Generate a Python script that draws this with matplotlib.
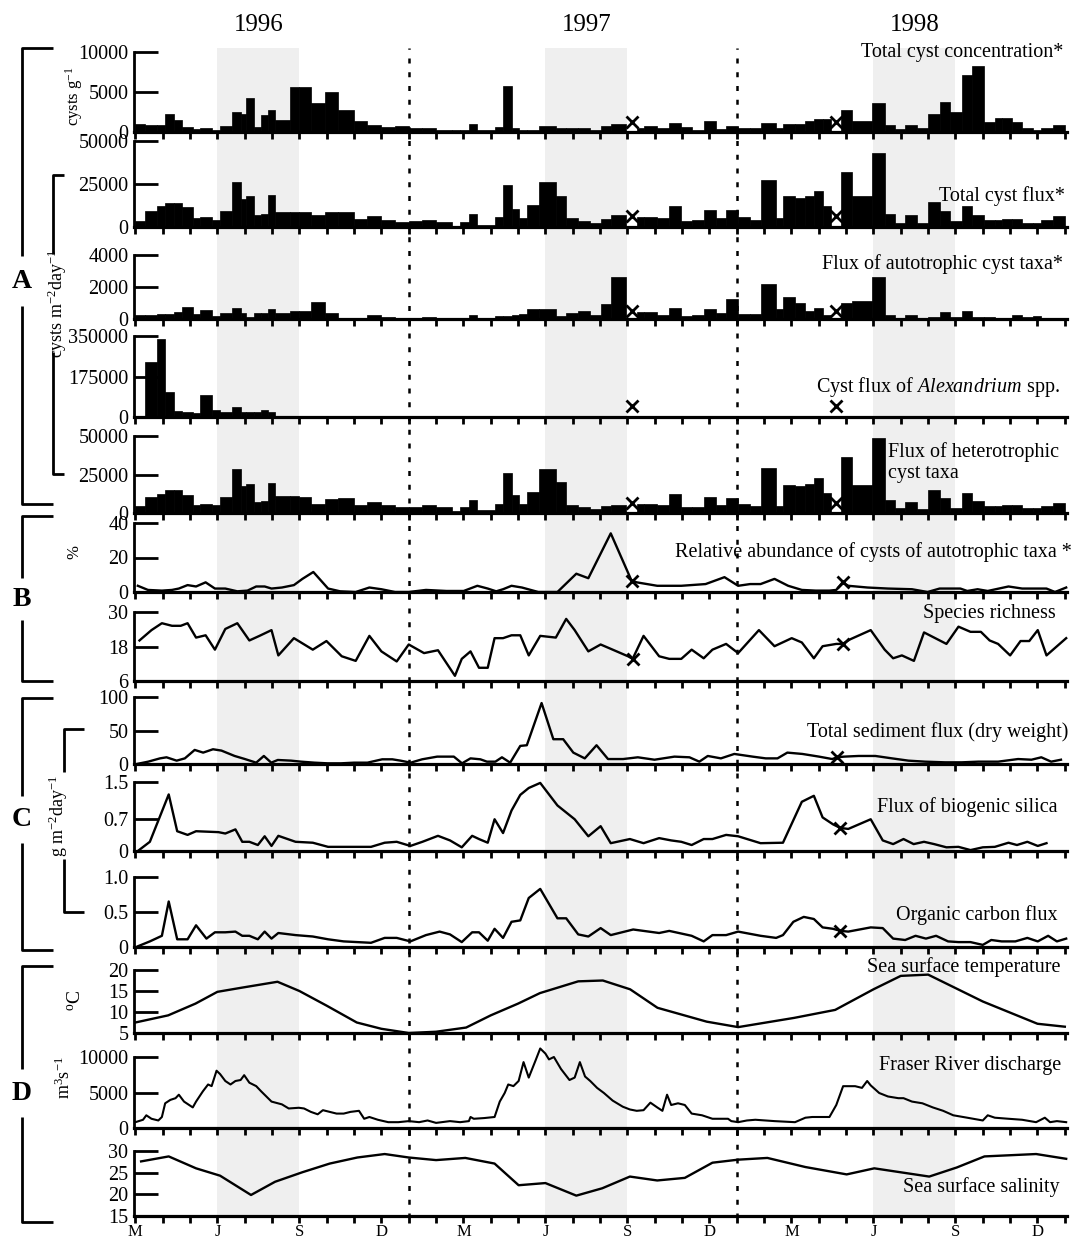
import numpy as np
import matplotlib
matplotlib.use("Agg")
import matplotlib.pyplot as plt
from matplotlib.transforms import blended_transform_factory

plt.rcParams["font.family"] = ["Liberation Serif", "DejaVu Serif"]
plt.rcParams["mathtext.fontset"] = "custom"
plt.rcParams["mathtext.rm"] = "Liberation Serif"
plt.rcParams["mathtext.it"] = "Liberation Serif:italic"
plt.rcParams["mathtext.bf"] = "Liberation Serif:bold"

nan = np.nan

# time in months since 1 Jan 1996 (2 = 1 Mar 1996, 36 = 1 Jan 1999)
trap_edges = [2.0, 2.34, 2.78, 3.09, 3.41, 3.72, 4.10, 4.35, 4.79, 5.10, 5.54, 5.85, 6.04, 6.35,
              6.60, 6.86, 7.11, 7.67, 7.98, 8.42, 8.93, 9.43, 9.99, 10.49, 11.00, 11.50, 12.00,
              12.50, 13.00, 13.57, 13.88, 14.20, 14.51, 15.14, 15.45, 15.76, 16.02, 16.33, 16.77,
              17.38, 17.76, 18.20, 18.64, 19.02, 19.39, 19.96, 20.34, 20.59, 21.09, 21.53, 21.97,
              22.35, 22.79, 23.23, 23.61, 24.05, 24.49, 24.87, 25.44, 25.69, 26.13, 26.51, 26.82,
              27.14, 27.45, 27.83, 28.21, 28.96, 29.41, 29.78, 30.16, 30.60, 30.98, 31.42, 31.80,
              32.24, 32.62, 33.06, 33.44, 33.69, 34.07, 34.44, 34.82, 35.14, 35.58, 36.0]

cyst_conc = [1000, 900, 900, 2200, 1500, 650, 350, 550, 300, 800,
             2500, 2300, 4200, 650, 2100, 2700, 1550, 5600, 5600, 3600,
             5000, 2700, 1400, 850, 650, 800, 450, 450, 300, 300,
             300, 1000, 300, 600, 5800, 500, 200, 200, 700, 550,
             550, 450, 200, 700, 1000, nan, 450, 800, 550, 1100,
             650, 300, 1350, 350, 800, 450, 450, 1150, 450, 1050,
             1050, 1400, 1650, 1650, nan, 2800, 1400, 3600, 900, 350,
             900, 450, 2300, 3800, 2500, 7100, 8300, 1200, 1800, 1800,
             1200, 550, 300, 550, 900]

cyst_flux = [3600, 9500, 12000, 13800, 13800, 11400, 5500, 6000, 4300, 9500,
             26000, 16000, 18000, 6700, 7600, 18500, 9000, 9000, 9000, 6700,
             9000, 9000, 4800, 6500, 4300, 3000, 3600, 4300, 2900, 700,
             2900, 7800, 1200, 6000, 24300, 10200, 5500, 13000, 26000, 18000,
             5500, 3600, 2400, 4800, 7100, nan, 6000, 6000, 5200, 12000,
             3600, 4000, 10000, 5200, 10000, 6000, 4000, 27200, 5500, 18000,
             17000, 18000, 21000, 12400, nan, 32000, 18000, 43000, 7600, 2400,
             6700, 2400, 14300, 9500, 3600, 12400, 7100, 4300, 4300, 4800,
             4800, 2400, 2400, 4300, 6400]

auto_flux = [240, 280, 300, 330, 430, 740, 330, 560, 185, 370,
             700, 370, 150, 400, 400, 650, 400, 520, 520, 1050,
             370, 90, 55, 280, 130, 40, 55, 130, 75, 20,
             55, 240, 75, 200, 185, 280, 315, 650, 600, 185,
             370, 520, 220, 960, 2600, nan, 430, 430, 240, 680,
             185, 280, 600, 400, 1240, 330, 330, 2180, 600, 1390,
             1020, 520, 680, 220, nan, 1020, 1110, 2650, 280, 75,
             240, 55, 130, 430, 130, 500, 150, 130, 90, 90,
             220, 130, 185, 90, 90]

alex_flux = [2000, 238000, 338000, 106000, 26000, 20000, 17000, 95000, 32000, 23000,
             42000, 23000, 23000, 20000, 29000, 20000, 6000, 5000, 3000, 3000,
             2000, 2000, 1000, 1000, 1000, 1000, 1000, 1000, 1000, 1000,
             1000, 1000, 1000, 1000, 1000, 1000, 1000, 1000, 500, 500,
             500, 500, 500, 500, 500, nan, 500, 500, 500, 500,
             500, 500, 500, 500, 500, 500, 500, 500, 500, 500,
             500, 3000, 3000, 500, nan, 500, 500, 3000, 500, 500,
             500, 500, 500, 500, 500, 500, 500, 500, 500, 500,
             500, 500, 500, 500, 500]

hetero_flux = [4300, 10200, 12400, 15200, 15200, 12000, 5400, 6100, 5000, 10400,
               28300, 17400, 19100, 7000, 8000, 19600, 10900, 10900, 10200, 6100,
               9300, 9800, 5400, 7000, 5000, 3700, 3900, 5000, 3700, 1100,
               3700, 8700, 1700, 6100, 26100, 11500, 6100, 13700, 28300, 20000,
               5400, 3700, 2800, 4300, 5400, nan, 5900, 5900, 5400, 12400,
               3700, 4100, 10400, 5000, 9800, 5900, 4300, 29000, 4300, 18500,
               17400, 19100, 22800, 13000, nan, 36500, 18500, 49000, 8300, 3300,
               7200, 2800, 14800, 9800, 3300, 13000, 7600, 4300, 4300, 5000,
               5000, 3300, 3300, 4300, 6500]

missing_samples = [20.15, 27.64]

abund_t = [2.09, 2.46, 2.97, 3.34, 3.59, 3.91, 4.22, 4.57, 4.91, 5.29, 5.73, 6.10, 6.42, 6.73,
           6.98, 7.36, 7.80, 8.11, 8.51, 9.05, 9.49, 10.06, 10.56, 11.0, 11.50, 12.0, 12.63,
           13.38, 14.01, 14.51, 14.89, 15.20, 15.45, 15.76, 16.14, 16.74, 17.44, 18.13, 18.57,
           19.39, 20.15, 20.34, 21.09, 21.97, 22.86, 23.55, 24.05, 24.49, 24.87, 25.38, 25.88,
           26.38, 26.89, 27.39, 27.64, 27.87, 28.08, 28.78, 29.53, 30.41, 30.98, 31.42, 32.18,
           32.43, 32.81, 33.18, 33.94, 34.44, 35.33, 35.64, 36.05]
abund_v = [3.6, 1.2, 0.8, 1.2, 2.0, 4.0, 3.2, 5.6, 2.0, 2.0, 0.4, 0.8, 3.2, 3.2,
           2.0, 2.6, 4.0, 7.6, 11.6, 2.0, 0.4, 0, 2.6, 1.6, 0, 0, 1.2,
           0.6, 0.6, 3.6, 2.0, 0.4, 1.6, 3.6, 2.6, 0, 0, 10.6, 8.0,
           34, 6.6, 5.6, 3.6, 3.6, 4.6, 8.6, 3.6, 4.6, 4.6, 7.6, 3.6,
           1.2, 0.8, 0.8, 1.2, 5.6, 3.6, 2.6, 2.0, 1.6, 0, 2.0, 2.0,
           0.6, 1.6, 0.6, 3.2, 2.0, 2.0, 0, 2.6]
abund_x = [20.15, 27.87]
abund_xv = [6.6, 5.6]

rich_t = [2.15, 2.59, 2.97, 3.34, 3.66, 3.91, 4.22, 4.57, 4.91, 5.29, 5.73, 6.17, 6.54, 6.98,
          7.23, 7.80, 8.49, 8.99, 9.55, 10.06, 10.56, 11.0, 11.56, 12.0, 12.56, 13.07, 13.69,
          13.94, 14.26, 14.57, 14.89, 15.14, 15.45, 15.76, 16.08, 16.39, 16.81, 17.38, 17.76,
          18.07, 18.57, 19.02, 19.46, 20.02, 20.19, 20.59, 21.16, 21.53, 21.97, 22.35, 22.79,
          23.11, 23.61, 24.05, 24.81, 25.38, 26.01, 26.38, 26.82, 27.14, 27.64, 27.87, 28.15,
          28.90, 29.41, 29.72, 30.04, 30.48, 30.85, 31.67, 32.11, 32.55, 32.93, 33.25, 33.56,
          34.0, 34.38, 34.70, 35.01, 35.33, 36.05]
rich_v = [20.1, 23.7, 26.1, 25.2, 25.2, 26.1, 21.1, 21.9, 16.9, 24.1, 26.1, 20.1, 21.7, 23.7,
          14.9, 20.9, 16.9, 19.9, 14.6, 13.0, 21.7, 16.3, 12.8, 18.7, 15.7, 16.7, 7.8,
          13.7, 16.3, 10.6, 10.6, 20.9, 20.9, 21.9, 21.9, 14.9, 21.7, 21.1, 27.6,
          23.7, 16.3, 18.7, 16.9, 14.6, 13.7, 21.7, 14.6, 13.7, 13.7, 16.9, 13.9,
          16.9, 18.9, 15.7, 23.7, 18.1, 20.9, 19.4, 13.9, 18.1, 18.9, 18.9, 20.5,
          23.7, 16.9, 13.9, 14.9, 13.0, 22.9, 18.9, 24.9, 23.1, 23.1, 20.1, 18.9,
          14.9, 19.9, 19.9, 23.7, 14.9, 20.9]
rich_x = [20.19, 27.87]
rich_xv = [13.7, 18.9]

sed_t = [2.05, 2.47, 2.90, 3.14, 3.51, 3.81, 4.17, 4.48, 4.84, 5.15, 5.63, 6.0, 6.42, 6.70,
         6.97, 7.21, 7.70, 8.06, 8.55, 9.03, 9.52, 10.0, 10.49, 11.03, 11.40, 11.70, 12.07,
         12.49, 13.04, 13.65, 13.95, 14.26, 14.62, 14.86, 15.17, 15.41, 15.71, 16.08, 16.32,
         16.86, 17.29, 17.65, 18.02, 18.44, 18.87, 19.29, 19.84, 20.38, 20.99, 21.72, 22.27,
         22.63, 22.94, 23.42, 23.91, 24.58, 25.06, 25.49, 25.85, 26.40, 27.01, 27.49, 27.67,
         27.92, 28.46, 29.07, 29.68, 30.28, 30.89, 31.62, 32.23, 32.84, 33.56, 34.29, 34.78,
         35.14, 35.50, 35.86]
sed_v = [0, 3.5, 8.4, 10, 5, 8.4, 21, 17, 22, 20, 12, 7.5, 2, 12,
         2, 6, 5, 3.5, 2, 1, 1, 2, 2, 7, 7, 5, 2,
         7, 11, 11, 1, 8.4, 7, 3.5, 3.5, 10, 2, 27, 28,
         91, 37, 37, 17, 8.4, 28, 7.4, 7.4, 10, 6.4, 11, 10,
         3.5, 12, 8.4, 15, 11, 8.4, 8.4, 17, 15, 11, 7.4, 10,
         11, 12, 12, 8.4, 5, 3.5, 2.5, 2.5, 3.5, 3.5, 7.4, 6.4,
         10, 3.5, 6.4]
sed_x = [27.67]
sed_xv = [10]

sil_t = [2.09, 2.53, 3.22, 3.53, 3.91, 4.22, 5.04, 5.29, 5.66, 5.91, 6.17, 6.48, 6.73, 6.98,
         7.23, 7.86, 8.49, 9.05, 9.62, 10.62, 11.12, 11.56, 12.06, 12.50, 13.07, 13.51, 13.94,
         14.32, 14.57, 14.89, 15.14, 15.45, 15.76, 16.08, 16.39, 16.81, 17.44, 18.07, 18.57,
         19.02, 19.39, 20.09, 20.59, 21.16, 21.60, 21.97, 22.35, 22.79, 23.11, 23.61, 24.05,
         24.87, 25.69, 26.38, 26.82, 27.14, 27.52, 27.79, 28.08, 28.90, 29.34, 29.72, 30.10,
         30.47, 30.85, 31.22, 31.67, 32.11, 32.55, 33.0, 33.44, 33.94, 34.25, 34.63, 35.01,
         35.33]
sil_v = [0, 0.20, 1.23, 0.43, 0.35, 0.43, 0.41, 0.38, 0.47, 0.20, 0.20, 0.13, 0.32, 0.11,
         0.33, 0.20, 0.18, 0.09, 0.09, 0.09, 0.18, 0.20, 0.11, 0.20, 0.33, 0.23, 0.08,
         0.33, 0.26, 0.18, 0.69, 0.39, 0.88, 1.22, 1.37, 1.48, 0.99, 0.69, 0.32,
         0.54, 0.17, 0.26, 0.17, 0.28, 0.23, 0.20, 0.13, 0.26, 0.26, 0.35, 0.32,
         0.17, 0.18, 1.07, 1.20, 0.73, 0.58, 0.50, 0.48, 0.69, 0.23, 0.15, 0.26,
         0.15, 0.20, 0.15, 0.08, 0.09, 0.02, 0.08, 0.09, 0.18, 0.13, 0.20, 0.11,
         0.17]
sil_x = [27.79]
sil_xv = [0.50]

oc_t = [2.09, 2.53, 2.97, 3.22, 3.53, 3.91, 4.22, 4.60, 4.91, 5.29, 5.66, 5.91, 6.17, 6.48,
        6.73, 6.98, 7.23, 7.86, 8.49, 9.05, 9.62, 10.62, 11.12, 11.56, 12.06, 12.63, 13.13,
        13.51, 13.94, 14.32, 14.57, 14.89, 15.14, 15.45, 15.76, 16.08, 16.39, 16.81, 17.44,
        17.76, 18.20, 18.57, 19.02, 19.39, 20.21, 21.16, 21.53, 22.35, 22.79, 23.11, 23.61,
        24.05, 24.87, 25.44, 25.69, 26.07, 26.45, 26.82, 27.14, 27.52, 27.79, 28.08, 28.90,
        29.34, 29.72, 30.16, 30.54, 30.92, 31.29, 31.73, 32.11, 32.55, 33.0, 33.31, 33.69,
        34.19, 34.63, 35.01, 35.39, 35.71, 36.05]
oc_v = [0.01, 0.08, 0.16, 0.65, 0.11, 0.11, 0.31, 0.12, 0.21, 0.21, 0.22, 0.16, 0.16, 0.11,
        0.22, 0.12, 0.20, 0.17, 0.15, 0.11, 0.08, 0.06, 0.13, 0.13, 0.08, 0.17, 0.22,
        0.18, 0.07, 0.21, 0.21, 0.09, 0.26, 0.13, 0.36, 0.38, 0.70, 0.83, 0.41,
        0.41, 0.18, 0.15, 0.27, 0.17, 0.25, 0.20, 0.23, 0.16, 0.08, 0.17, 0.17,
        0.22, 0.16, 0.13, 0.17, 0.36, 0.43, 0.40, 0.28, 0.26, 0.23, 0.22, 0.28,
        0.27, 0.12, 0.10, 0.16, 0.12, 0.16, 0.08, 0.07, 0.07, 0.03, 0.10, 0.08,
        0.08, 0.13, 0.08, 0.16, 0.08, 0.12]
oc_x = [27.79]
oc_xv = [0.23]

sst_t = [2.0, 3.2, 4.2, 5.0, 5.9, 7.2, 8.0, 9.0, 10.1, 11.0, 12.0, 13.0, 14.1, 15.0, 16.0,
         16.8, 18.2, 19.1, 20.1, 21.1, 22.9, 24.05, 26.1, 27.6, 29.0, 30.0, 31.0, 33.0, 35.0, 36.0]
sst_v = [7.5, 9.2, 12.0, 14.8, 15.8, 17.2, 15.0, 11.5, 7.5, 6.0, 5.0, 5.3, 6.3, 9.2, 12.0,
         14.5, 17.3, 17.5, 15.4, 11.0, 7.7, 6.4, 8.6, 10.5, 15.4, 18.6, 18.9, 12.5, 7.2, 6.5]

fraser_t = [2.0, 2.28, 2.4, 2.59, 2.84, 2.97, 3.09, 3.28, 3.47, 3.59, 3.78, 4.10, 4.22, 4.47,
            4.66, 4.79, 4.97, 5.10, 5.29, 5.48, 5.66, 5.85, 5.98, 6.17, 6.42, 6.60, 6.98, 7.36,
            7.61, 7.98, 8.17, 8.42, 8.67, 8.86, 9.11, 9.36, 9.62, 9.87, 10.18, 10.37, 10.56,
            10.87, 11.25, 11.62, 12.0, 12.38, 12.69, 13.0, 13.51, 13.88, 14.2, 14.26, 14.38,
            14.76, 15.14, 15.33, 15.51, 15.64, 15.83, 16.02, 16.2, 16.39, 16.64,
            16.81, 17.0, 17.13, 17.31, 17.57, 17.88, 18.07, 18.26, 18.45, 18.64, 18.89, 19.14,
            19.46, 19.83, 20.09, 20.34, 20.59, 20.84, 21.09, 21.28, 21.45, 21.6, 21.85, 22.1,
            22.35, 22.73, 23.11, 23.36, 23.68, 23.80, 24.05, 24.37, 24.68, 25.38, 26.13, 26.51,
            26.76, 27.39, 27.64, 27.89, 28.33, 28.58, 28.77, 28.90, 29.21, 29.53, 29.91, 30.10,
            30.41, 30.79, 31.17, 31.55, 31.92, 32.43, 33.0, 33.18, 33.44, 33.94, 34.44, 34.95,
            35.27, 35.46, 35.71, 36.05]
fraser_v = [820, 1160, 1790, 1300, 1060, 1550, 3480, 3960, 4200, 4690, 3720, 2900, 3720, 5170,
            6130, 5900, 8070, 7590, 6620, 6130, 6620, 6760, 7440, 6380, 5900, 5170, 3720, 3330,
            2750, 2850, 2750, 2270, 1930, 2510, 2270, 2030, 2030, 2270, 2420, 1300, 1550,
            1160, 820, 820, 970, 820, 1060, 720, 970, 820, 970, 1550, 1300,
            1400, 1550, 3720, 4930, 6130, 5900, 6620, 9280, 7100, 9520,
            11200, 10480, 9660, 10000, 8310, 6760, 7100, 9280, 7250, 6620, 5650, 4930,
            3860, 3000, 2610, 2420, 2510, 3570, 2900, 2420, 4690, 3240, 3480, 3240,
            2030, 1790, 1300, 1300, 1300, 970, 820, 1060, 1160, 970, 820, 1450,
            1550, 1550, 3240, 5890, 5890, 5650, 6620, 6000, 4930, 4440, 4200, 4200,
            3720, 3480, 2900, 2420, 1790, 1450, 1060, 1790, 1450, 1300, 1160, 820,
            1450, 820, 970, 820]

sal_t = [2.21, 3.22, 4.22, 5.10, 6.23, 7.11, 8.11, 9.11, 10.12, 11.12, 12.0, 13.0, 14.07,
         15.14, 16.02, 17.0, 18.13, 19.08, 20.09, 21.09, 22.10, 23.11, 24.05, 25.12, 26.51,
         28.02, 29.03, 31.04, 32.05, 33.06, 34.95, 36.05]
sal_v = [27.6, 28.75, 26.0, 24.3, 19.85, 22.9, 25.1, 27.1, 28.5, 29.3, 28.5, 27.9, 28.4,
         27.1, 22.1, 22.6, 19.7, 21.4, 24.1, 23.2, 23.8, 27.3, 28.0, 28.4, 26.3,
         24.6, 26.0, 24.1, 26.2, 28.75, 29.3, 28.2]

summers = [(5, 8), (17, 20), (29, 32)]
year_labels = ["1996", "1997", "1998"]
new_years = [12, 24]
month_ticks = [2, 5, 8, 11, 14, 17, 20, 23, 26, 29, 32, 35]
month_labels = ["M", "J", "S", "D"] * 3

# ---------------------------------------------------------------- layout
W, H = 1079, 1245
fig = plt.figure(figsize=(W / 100, H / 100), dpi=100)
XL, XR = 134, 1067
XLIM = (1.95, 36.08)


def panel(top, bottom, ylim, yticks, yticklabels=None):
    ax = fig.add_axes([XL / W, 1 - bottom / H, (XR - XL) / W, (bottom - top) / H])
    ax.set_xlim(*XLIM)
    ax.set_ylim(*ylim)
    ax.patch.set_visible(False)
    ax.spines[["top", "right"]].set_visible(False)
    ax.spines["left"].set_linewidth(2)
    ax.spines["bottom"].set_linewidth(2.3)
    ax.set_xticks(np.arange(2, 37))
    ax.tick_params(axis="x", direction="out", length=5, width=2, labelbottom=False)
    ax.set_yticks(yticks)
    ax.set_yticklabels(yticklabels if yticklabels else [str(t) for t in yticks])
    ax.tick_params(axis="y", direction="in", length=17, width=2, pad=4, labelsize=14.5)
    return ax


def label(ax, x, y, txt, ha="right"):
    ax.text(x, y, txt, transform=ax.transAxes, ha=ha, va="center", fontsize=14.5)


# background: summer shading, new-year dotted lines, years
bg = fig.add_axes([XL / W, 1 - 1218 / H, (XR - XL) / W, (1218 - 48) / H])
bg.set_xlim(*XLIM)
bg.set_ylim(0, 1)
bg.axis("off")
for a, b in summers:
    bg.axvspan(a, b, color="#efefef", lw=0)
for x in new_years:
    bg.axvline(x, color="k", lw=1.8, ls=(0, (2, 3.5)))
tr = blended_transform_factory(bg.transData, fig.transFigure)
for (a, b), lab in zip(summers, year_labels):
    bg.text((a + b) / 2, 1 - 25 / H, lab, transform=tr, ha="center", va="center", fontsize=18)

edges = np.array(trap_edges)
left = edges[:-1]
width = np.diff(edges)


def bars(ax, vals):
    v = np.array(vals, float)
    ok = ~np.isnan(v)
    ax.bar(left[ok], v[ok], width=width[ok], align="edge", color="k", edgecolor="k", lw=0.5)
    t = blended_transform_factory(ax.transData, ax.transAxes)
    ax.plot(missing_samples, [0.13] * len(missing_samples), transform=t, ls="none",
            marker="x", ms=9, mew=2, color="k")


def line(ax, t, v, xt=None, xv=None):
    ax.plot(t, v, color="k", lw=1.7, clip_on=False)
    if xt:
        ax.plot(xt, xv, ls="none", marker="x", ms=9, mew=2, color="k")


# A: cysts
ax = panel(52, 132, (0, 10000), [0, 5000, 10000])
bars(ax, cyst_conc)
label(ax, 0.996, 0.99, "Total cyst concentration*")

ax = panel(141, 227, (0, 50000), [0, 25000, 50000])
bars(ax, cyst_flux)
label(ax, 0.998, 0.36, "Total cyst flux*")

ax = panel(255, 319, (0, 4000), [0, 2000, 4000])
bars(ax, auto_flux)
label(ax, 0.996, 0.86, "Flux of autotrophic cyst taxa*")

ax = panel(336, 417, (0, 350000), [0, 175000, 350000])
bars(ax, alex_flux)
label(ax, 0.9925, 0.37, r"Cyst flux of $\mathit{Alexandrium}$ spp.")

ax = panel(436, 513, (0, 50000), [0, 25000, 50000])
bars(ax, hetero_flux)
ax.text(0.808, 0.66, "Flux of heterotrophic\ncyst taxa", transform=ax.transAxes,
        ha="left", va="center", fontsize=14.5, linespacing=1.15)

# B
ax = panel(523, 592, (0, 40), [0, 20, 40])
line(ax, abund_t, abund_v, abund_x, abund_xv)
label(ax, 1.005, 0.585, "Relative abundance of cysts of autotrophic taxa *")

ax = panel(612, 681, (6, 30), [6, 18, 30])
line(ax, rich_t, rich_v, rich_x, rich_xv)
label(ax, 0.988, 0.977, "Species richness")

# C
ax = panel(697, 764, (0, 100), [0, 50, 100])
line(ax, sed_t, sed_v, sed_x, sed_xv)
label(ax, 1.001, 0.48, "Total sediment flux (dry weight)")

ax = panel(782, 851, (0, 1.5), [0, 0.7, 1.5], ["0", "0.7", "1.5"])
line(ax, sil_t, sil_v, sil_x, sil_xv)
label(ax, 0.99, 0.64, "Flux of biogenic silica")

ax = panel(877, 947, (0, 1.0), [0, 0.5, 1.0], ["0", "0.5", "1.0"])
line(ax, oc_t, oc_v, oc_x, oc_xv)
label(ax, 0.99, 0.46, "Organic carbon flux")

# D
ax = panel(970, 1033, (5, 20), [5, 10, 15, 20])
line(ax, sst_t, sst_v)
label(ax, 0.9925, 1.05, "Sea surface temperature")

ax = panel(1057, 1128, (0, 10000), [0, 5000, 10000])
ax.plot(fraser_t, fraser_v, color="k", lw=1.5, clip_on=False)
label(ax, 0.994, 0.88, "Fraser River discharge")

ax = panel(1151, 1216, (15, 30), [15, 20, 25, 30])
line(ax, sal_t, sal_v)
label(ax, 0.9925, 0.45, "Sea surface salinity")
ax.set_xticks(month_ticks)
ax.set_xticklabels(month_labels)
ax.set_xticks(np.arange(2, 37), minor=True)
ax.tick_params(axis="x", which="both", direction="out", length=5, width=2,
               labelbottom=True, labelsize=12, pad=1)

# brackets, group letters and unit labels (pixel overlay)
ov = fig.add_axes([0, 0, 1, 1])
ov.set_xlim(0, W)
ov.set_ylim(H, 0)
ov.axis("off")
kw = dict(color="k", lw=2, solid_capstyle="butt")
groups = [("A", 48, 256, 306, 504), ("B", 516, 578, 620, 681),
          ("C", 698, 796, 843, 950), ("D", 966, 1069, 1117, 1222)]
for letter, y0, g0, g1, y1 in groups:
    ov.plot([53, 22, 22], [y0, y0, g0], **kw)
    ov.plot([22, 22, 53], [g1, y1, y1], **kw)
    ov.text(22, (g0 + g1) / 2, letter, ha="center", va="center", fontsize=20, weight="bold")

ov.plot([64, 53, 53], [175, 175, 254], **kw)
ov.plot([53, 53, 64], [352, 474, 474], **kw)
ov.text(57, 303, r"cysts m$^{-2}$day$^{-1}$", rotation=90, ha="center", va="center", fontsize=13)

ov.plot([84, 64, 64], [729, 729, 772], **kw)
ov.plot([64, 64, 84], [859, 912, 912], **kw)
ov.text(58, 816, r"g m$^{-2}$day$^{-1}$", rotation=90, ha="center", va="center", fontsize=13)

ov.text(74, 96, r"cysts g$^{-1}$", rotation=90, ha="center", va="center", fontsize=12)
ov.text(74, 552, "%", rotation=90, ha="center", va="center", fontsize=12)
ov.text(76, 1000, r"$^{\rm o}$C", rotation=90, ha="center", va="center", fontsize=14)
ov.text(64, 1078, r"m$^{3}$s$^{-1}$", rotation=90, ha="center", va="center", fontsize=13)

fig.savefig("out.png", dpi=100)
